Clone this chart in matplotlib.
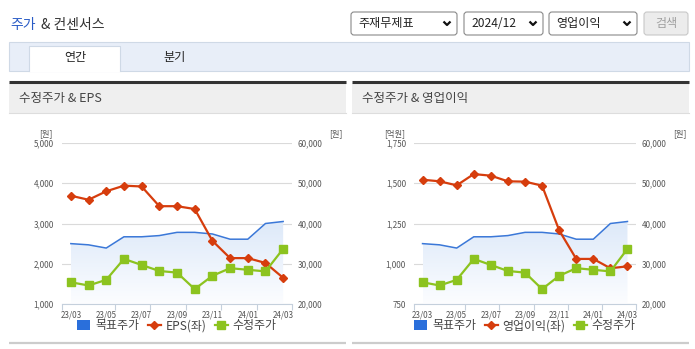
import numpy as np
import matplotlib.pyplot as plt
from matplotlib.patches import Rectangle, FancyBboxPatch, Patch
from matplotlib.lines import Line2D
from matplotlib.colors import LinearSegmentedColormap

plt.rcParams['font.family'] = ['Noto Sans CJK KR', 'DejaVu Sans']

# data (monthly, 23/03 .. 24/03)
months = ['23/03', '23/04', '23/05', '23/06', '23/07', '23/08', '23/09',
          '23/10', '23/11', '23/12', '24/01', '24/02', '24/03']
target_price = [35000, 34700, 33900, 36700, 36700, 37000, 37800, 37800,
                37400, 36100, 36100, 40000, 40500]          # 목표주가 (원)
adj_price = [25400, 24600, 26000, 31200, 29700, 28200, 27800, 23700,
             27000, 28900, 28500, 28100, 33700]              # 수정주가 (원)
eps = [3690, 3590, 3800, 3940, 3920, 3430, 3430, 3360, 2570, 2140, 2140,
       2020, 1650]                                            # EPS (원)
op_profit = [1522, 1512, 1487, 1557, 1547, 1512, 1510, 1485, 1208, 1030,
             1030, 972, 984]                                  # 영업이익 (억원)

price_ticks = [20000, 30000, 40000, 50000, 60000]
eps_ticks = [1000, 2000, 3000, 4000, 5000]
op_ticks = [750, 1000, 1250, 1500, 1750]

RED = '#d63d0d'
GREEN = '#8cc31f'
BLUE = '#3b78d8'
TICK_C = '#555555'

W, H = 695, 349
fig = plt.figure(figsize=(W / 100, H / 100), dpi=100)

# page background drawn in pixel coords
bg = fig.add_axes([0, 0, 1, 1], zorder=-1)
bg.set_xlim(0, W)
bg.set_ylim(H, 0)
bg.axis('off')

# title
bg.text(10, 25, '주가', color='#2a5cc6', fontsize=10, va='center')
bg.text(41, 25, '& 컨센서스', color='#333333', fontsize=10, va='center')

# dropdowns
def dropdown(x0, x1, label):
    bg.add_patch(FancyBboxPatch((x0, 12), x1 - x0, 23,
                                boxstyle='round,pad=0,rounding_size=3',
                                fc='white', ec='#8a8a8a', lw=0.8))
    bg.text(x0 + 7, 23.5, label, fontsize=8.7, color='#222222', va='center')
    cx = x1 - 10
    bg.plot([cx - 3.5, cx, cx + 3.5], [21.5, 25, 21.5], color='#111111',
            lw=1.6, solid_capstyle='butt')

dropdown(351, 457, '주재무제표')
dropdown(464, 543, '2024/12')
dropdown(549, 637, '영업이익')
bg.add_patch(FancyBboxPatch((644, 12), 44, 23,
                            boxstyle='round,pad=0,rounding_size=3',
                            fc='#ececec', ec='#c8c8c8', lw=0.8))
bg.text(666, 23.5, '검색', fontsize=8.7, color='#a0a0a0', va='center', ha='center')

# tab bar
bg.add_patch(Rectangle((9, 42), 680, 29, fc='#e8eef8', ec='#cfd9e6', lw=0.8))
bg.add_patch(Rectangle((29, 46), 91, 26, fc='white', ec='none'))
bg.plot([29, 29, 120, 120], [71, 46, 46, 71], color='#cfd9e6', lw=0.8)
bg.text(75, 57.5, '연간', fontsize=8.7, color='#222222', ha='center', va='center')
bg.text(175, 57.5, '분기', fontsize=8.7, color='#222222', ha='center', va='center')

# panels
for px0, px1, title in [(9, 346, '수정주가 & EPS'), (352, 689, '수정주가 & 영업이익')]:
    bg.add_patch(Rectangle((px0, 83), px1 - px0, 30, fc='#efefef', ec='none'))
    bg.plot([px0, px1], [82, 82], color='#333333', lw=2.2, solid_capstyle='butt')
    bg.plot([px0, px1], [113, 113], color='#dddddd', lw=0.8)
    bg.text(px0 + 10, 98.5, title, fontsize=9, color='#444444', va='center')
    bg.plot([px0, px1], [343, 343], color='#cccccc', lw=1.6, solid_capstyle='butt')


def panel(ax_left, ax_right, left_vals, left_ticks, left_unit, left_name):
    x = np.arange(len(months))
    lo, hi = left_ticks[0], left_ticks[-1]
    plo, phi = price_ticks[0], price_ticks[-1]

    def to_price(v):
        return plo + (np.asarray(v, dtype=float) - lo) * (phi - plo) / (hi - lo)

    def to_left(p):
        return lo + (np.asarray(p, dtype=float) - plo) * (hi - lo) / (phi - plo)

    ax = fig.add_axes([ax_left / W, 1 - 304 / H, (ax_right - ax_left) / W, 161 / H])
    ax.set_facecolor('none')

    # gradient area under target price
    poly = ax.fill_between(x, target_price, plo, color='none', lw=0)
    cmap = LinearSegmentedColormap.from_list('g', ['#fcfdff', '#dde9f9'])
    grad = np.linspace(0, 1, 256).reshape(-1, 1)
    im = ax.imshow(grad, extent=[x[0], x[-1], plo, max(target_price)],
                   origin='lower', aspect='auto', cmap=cmap, zorder=1)
    im.set_clip_path(poly.get_paths()[0], transform=ax.transData)

    ax.plot(x, target_price, color=BLUE, lw=1.1, zorder=3)
    ax.plot(x, to_price(left_vals), color=RED, lw=1.6, marker='D', ms=3.8,
            zorder=4)
    ax.plot(x, adj_price, color=GREEN, lw=1.6, marker='s', ms=5.2, zorder=5)

    ax.set_xlim(-0.5, len(months) - 0.5)
    ax.set_ylim(plo, phi)

    ax.yaxis.tick_right()
    ax.set_yticks(price_ticks)
    ax.set_yticklabels([f'{v:,}' for v in price_ticks])
    ax.tick_params(axis='y', length=0, pad=4.3, labelsize=5.8, labelcolor=TICK_C)
    ax.grid(axis='y', color='#dadada', lw=0.8)
    ax.set_axisbelow(True)

    sec = ax.secondary_yaxis('left', functions=(to_left, to_price))
    sec.set_yticks(left_ticks)
    sec.set_yticklabels([f'{v:,}' for v in left_ticks])
    sec.tick_params(length=0, pad=5.8, labelsize=5.8, labelcolor=TICK_C)
    sec.spines['left'].set_visible(False)

    # labels every second month, tick marks on the category boundaries
    ax.set_xticks(x[::2])
    ax.set_xticklabels(months[::2])
    ax.set_xticks([-0.5, 2.5, 4.5, 6.5, 8.5, 10.5, 12.5], minor=True)
    ax.tick_params(axis='x', which='major', length=0, pad=4.5, labelsize=5.8,
                   labelcolor=TICK_C)
    ax.tick_params(axis='x', which='minor', length=4, width=0.8, color='#c5d0dc')

    for s in ['top', 'left', 'right']:
        ax.spines[s].set_visible(False)
    ax.spines['bottom'].set_color('#c5d0dc')
    ax.spines['bottom'].set_linewidth(0.8)

    bg.text(ax_left - 9, 134, left_unit, fontsize=6, color=TICK_C,
            ha='right', va='center')
    bg.text(ax_right + 50, 134, '[원]', fontsize=6, color=TICK_C,
            ha='right', va='center')

    handles = [Patch(fc='#2a6fdb', ec='none'),
               Line2D([], [], color=RED, lw=1.6, marker='D', ms=3.8),
               Line2D([], [], color=GREEN, lw=1.6, marker='s', ms=5.2)]
    ax.legend(handles, ['목표주가', left_name, '수정주가'], loc='center',
              bbox_to_anchor=(0.5, -0.135), ncol=3, frameon=False, fontsize=8.6,
              handlelength=1.1, handleheight=1.0, handletextpad=0.4,
              columnspacing=0.7, labelcolor='#444444')


panel(62, 292, eps, eps_ticks, '[원]', 'EPS(좌)')
panel(414, 636, op_profit, op_ticks, '[억원]', '영업이익(좌)')

fig.savefig('out.png', dpi=100, facecolor='white')
